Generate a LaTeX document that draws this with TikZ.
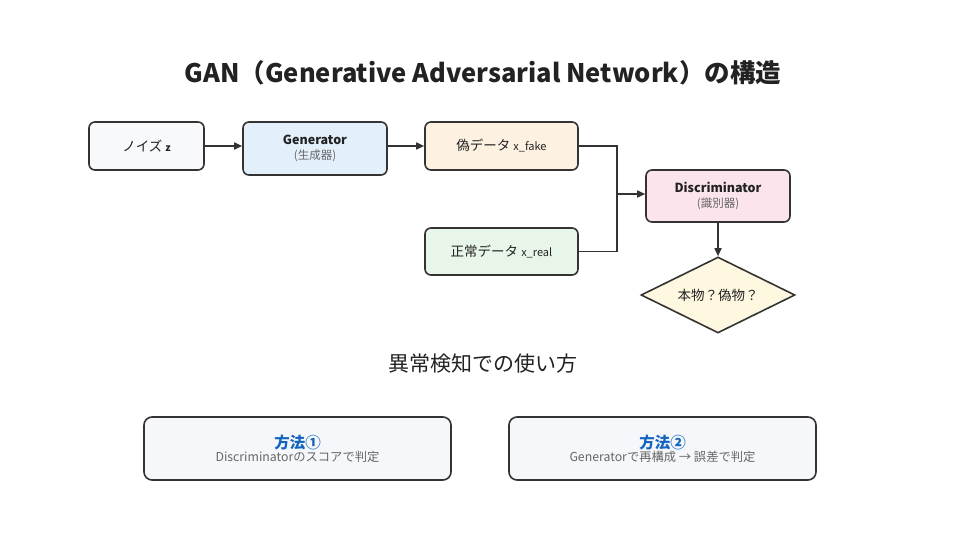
\documentclass[tikz,border=0pt]{standalone}
\usepackage{fontspec}
\setmainfont{Noto Sans CJK JP}
\usepackage{xcolor}
\definecolor{cLine}{HTML}{333333}
\definecolor{cText}{HTML}{222222}
\definecolor{cSub}{HTML}{666666}
\definecolor{cBlue}{HTML}{1565C0}
\definecolor{cNoise}{HTML}{F7F9FB}
\definecolor{cGen}{HTML}{E3F0FB}
\definecolor{cFake}{HTML}{FDF2E1}
\definecolor{cReal}{HTML}{E8F5E9}
\definecolor{cDisc}{HTML}{FCE4EC}
\definecolor{cJudge}{HTML}{FFF8E1}
\definecolor{cMethod}{HTML}{F5F7FA}
\usetikzlibrary{positioning,arrows.meta,shapes.geometric}
\tikzset{
  node-box/.style={draw=cLine,line width=1.6pt,rounded corners=6pt,
    inner sep=0pt,align=center,text=cText,font=\fontsize{13.5}{16}\selectfont},
  node-judge/.style={draw=cLine,line width=1.6pt,diamond,aspect=2,inner sep=0pt,
    minimum width=154pt,minimum height=76pt,fill=cJudge,text=cText,
    font=\fontsize{13.5}{16}\selectfont},
  node-method/.style={node-box,rounded corners=8pt,minimum width=307pt,
    minimum height=63pt,fill=cMethod},
  arrow/.style={-{Triangle[length=8pt,width=7pt]},line width=1.6pt,draw=cLine},
  link/.style={line width=1.6pt,draw=cLine},
}
\newcommand{\boxhead}[1]{{\fontsize{12.5}{15}\bfseries #1}}
\newcommand{\boxsub}[1]{\\[-1pt]{\fontsize{11.5}{13}\selectfont\color{cSub}#1}}

\begin{document}
\begin{tikzpicture}[x=1pt,y=-1pt]
  \useasboundingbox (0,0) rectangle (960,540);
  \node[font=\fontsize{25.5}{30}\bfseries,text=cText] (title) at (483,73)
    {GAN（Generative Adversarial Network）の構造};

  % 上段: 生成側
  \node[node-box,minimum width=115pt,minimum height=48pt,fill=cNoise] (noise) at (146.5,146)
    {ノイズ {\fontsize{10}{12}\bfseries z}};
  \node[node-box,minimum width=144pt,minimum height=53pt,fill=cGen] (gen) at (315,148.5)
    {\boxhead{Generator}\boxsub{(生成器)}};
  \node[node-box,minimum width=153pt,minimum height=48pt,fill=cFake] (fake) at (501.5,146)
    {偽データ {\fontsize{11}{13}\selectfont x\_fake}};
  \node[node-box,minimum width=153pt,minimum height=47pt,fill=cReal] (real) at (501.5,251.5)
    {正常データ {\fontsize{11}{13}\selectfont x\_real}};
  \node[node-box,minimum width=144pt,minimum height=52pt,fill=cDisc] (disc) at (718,196)
    {\boxhead{Discriminator}\boxsub{(識別器)}};
  \node[node-judge] (judge) at (718,295) {本物？偽物？};
  \coordinate (merge) at (617,194);

  \draw[arrow] (noise.east) -- (gen.west |- noise.east);
  \draw[arrow] (gen.east |- fake.west) -- (fake.west);
  \draw[link] (fake.east) -| (merge);
  \draw[link] (real.east) -| (merge);
  \draw[arrow] (merge) -- (disc.west |- merge);
  \draw[arrow] (disc.south) -- (judge.north);

  % 下段: 異常検知
  \node[font=\fontsize{21}{25}\selectfont,text=cText] (usage) at (483,364) {異常検知での使い方};
  \node[node-method] (way1) at (297.5,448.5)
    {{\fontsize{15.5}{18}\bfseries\color{cBlue}方法①}\\[-3pt]{\fontsize{12.3}{14}\selectfont\color{cSub}Discriminatorのスコアで判定}};
  \node[node-method] (way2) at (662.5,448.5)
    {{\fontsize{15.5}{18}\bfseries\color{cBlue}方法②}\\[-3pt]{\fontsize{12.3}{14}\selectfont\color{cSub}Generatorで再構成 → 誤差で判定}};
\end{tikzpicture}
\end{document}
